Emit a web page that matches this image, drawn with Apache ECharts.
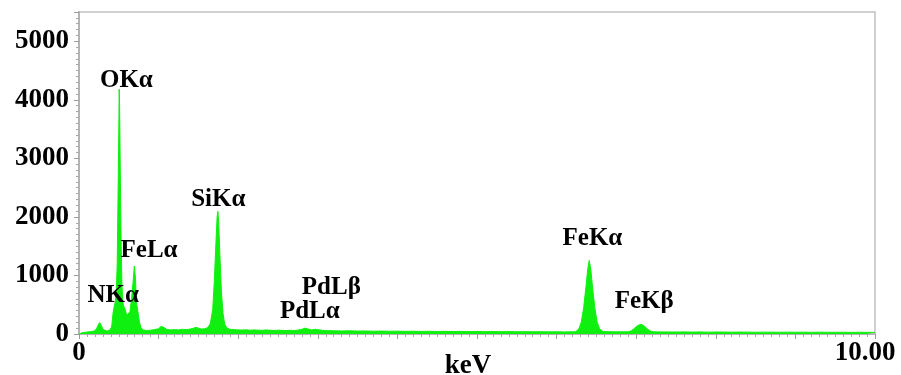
<!DOCTYPE html>
<html>
<head>
<meta charset="utf-8">
<script src="https://cdn.jsdelivr.net/npm/echarts@6/dist/echarts.min.js"></script>
<style>
  html, body { margin: 0; padding: 0; background: #fff; }
  #chart { width: 901px; height: 375px; }
</style>
</head>
<body>
<div id="chart"></div>
<script>
// EDS spectrum: photon energy (keV) and counts
const energyKeV = [
  0.00, 0.02, 0.05, 0.08, 0.11, 0.14, 0.17, 0.20, 0.22, 0.24, 0.26, 0.28, 0.30, 0.32, 0.35, 0.38,
  0.41, 0.43, 0.45, 0.46, 0.47, 0.48, 0.49, 0.50, 0.505, 0.51, 0.52, 0.53, 0.54, 0.55, 0.56, 0.58,
  0.60, 0.61, 0.62, 0.64, 0.66, 0.68, 0.695, 0.71, 0.72, 0.74, 0.76, 0.78, 0.81, 0.85, 0.90, 0.95,
  1.00, 1.03, 1.05, 1.07, 1.10, 1.15, 1.20, 1.25, 1.30, 1.35, 1.40, 1.44, 1.47, 1.50, 1.54, 1.58,
  1.62, 1.65, 1.68, 1.70, 1.72, 1.735, 1.745, 1.755, 1.77, 1.79, 1.81, 1.83, 1.86, 1.90, 1.95, 2.00,
  2.05, 2.10, 2.15, 2.20, 2.25, 2.30, 2.35, 2.40, 2.45, 2.50, 2.55, 2.60, 2.65, 2.70, 2.75, 2.80,
  2.84, 2.88, 2.92, 2.97, 3.01, 3.05, 3.10, 3.20, 3.30, 3.40, 3.50, 3.60, 3.70, 3.80, 3.90, 4.00,
  4.10, 4.20, 4.30, 4.40, 4.50, 4.60, 4.70, 4.80, 4.90, 5.00, 5.10, 5.20, 5.30, 5.40, 5.50, 5.60,
  5.70, 5.80, 5.90, 6.00, 6.10, 6.20, 6.24, 6.28, 6.31, 6.34, 6.37, 6.39, 6.41, 6.43, 6.45, 6.48,
  6.51, 6.54, 6.58, 6.62, 6.70, 6.80, 6.90, 6.94, 6.98, 7.02, 7.06, 7.10, 7.14, 7.18, 7.22, 7.30,
  7.40, 7.50, 7.60, 7.70, 7.80, 7.90, 8.00, 8.10, 8.20, 8.30, 8.40, 8.50, 8.60, 8.70, 8.80, 8.90,
  9.00, 9.10, 9.20, 9.30, 9.40, 9.50, 9.60, 9.70, 9.80, 9.90, 10.00
];
const counts = [
  0, 15, 25, 30, 35, 40, 45, 55, 90, 150, 195, 150, 80, 55, 50, 60,
  120, 380, 520, 600, 780, 1200, 2300, 3500, 4180, 3900, 2600, 1500, 820, 560, 480, 420,
  320, 350, 300, 380, 600, 900, 1160, 950, 560, 380, 200, 100, 70, 60, 65, 75,
  90, 130, 145, 110, 80, 70, 75, 70, 80, 75, 85, 100, 115, 100, 85, 90,
  110, 180, 420, 900, 1550, 2000, 2095, 1900, 1350, 700, 350, 170, 100, 80, 75, 70,
  68, 72, 65, 70, 66, 62, 70, 64, 60, 66, 62, 58, 64, 60, 66, 80,
  100, 85, 70, 80, 72, 65, 58, 55, 52, 55, 50, 52, 48, 50, 47, 49,
  45, 47, 44, 46, 43, 45, 42, 44, 41, 43, 40, 42, 39, 41, 38, 40,
  38, 39, 37, 38, 36, 38, 40, 90, 200, 450, 820, 1100, 1255, 1100, 820, 450,
  200, 90, 45, 40, 38, 37, 38, 55, 100, 145, 165, 140, 85, 50, 38, 36,
  35, 34, 36, 33, 35, 32, 34, 33, 31, 33, 32, 30, 32, 31, 30, 32,
  30, 31, 29, 31, 30, 29, 30, 28, 30, 29, 28
];

// Peak annotations: line name and where its caption sits (keV, counts)
const peakNames = ['OKα', 'FeLα', 'NKα', 'SiKα', 'PdLβ', 'PdLα', 'FeKα', 'FeKβ'];
const peakLabelKeV = [0.595, 0.88, 0.43, 1.75, 3.17, 2.90, 6.45, 7.10];
const peakLabelCounts = [4330, 1430, 660, 2290, 790, 390, 1630, 550];

// Axis settings
const yTickValues = [0, 1000, 2000, 3000, 4000, 5000];
const xAxisMax = 10;

const spectrum = energyKeV.map((e, i) => [e, counts[i]]);
const peakLabels = peakNames.map((n, i) => ({ name: n, coord: [peakLabelKeV[i], peakLabelCounts[i]] }));

const serif = '"Liberation Serif", "Times New Roman", serif';

const chart = echarts.init(document.getElementById('chart'), null, { renderer: 'canvas' });
chart.setOption({
  animation: false,
  backgroundColor: '#ffffff',
  grid: {
    left: 79, right: 26, top: 12, bottom: 41,
    containLabel: false,
    outerBoundsMode: 'none',
    show: true, borderColor: '#d0d0d0', borderWidth: 2, backgroundColor: 'transparent'
  },
  xAxis: {
    type: 'value',
    min: 0, max: xAxisMax, interval: 1,
    name: 'keV',
    nameLocation: 'middle',
    nameGap: 19,
    nameMoveOverlap: false,
    nameTextStyle: { fontFamily: serif, fontWeight: 'bold', fontSize: 27, color: '#000', padding: [0, 18, 0, 0] },
    axisLine: { show: true, lineStyle: { color: '#b4b4b4', width: 2 } },
    axisTick: { show: true, length: 5, lineStyle: { color: '#9a9a9a' } },
    minorTick: { show: true, splitNumber: 10, length: 3, lineStyle: { color: '#a8a8a8' } },
    splitLine: { show: false },
    axisLabel: {
      fontFamily: serif, fontWeight: 'bold', fontSize: 27, color: '#000', margin: 6,
      formatter: v => v === 0 ? '0' : (v === xAxisMax ? '{m|10.00}' : ''),
      rich: { m: { fontFamily: serif, fontWeight: 'bold', fontSize: 27, color: '#000', padding: [0, 20, 0, 0] } }
    }
  },
  yAxis: {
    type: 'value',
    min: 0, max: 5500, interval: 1000,
    axisLine: { show: true, lineStyle: { color: '#b4b4b4', width: 2 } },
    axisTick: { show: true, length: 5, lineStyle: { color: '#9a9a9a' } },
    minorTick: { show: true, splitNumber: 10, length: 3, lineStyle: { color: '#a8a8a8' } },
    splitLine: { show: false },
    axisLabel: {
      fontFamily: serif, fontWeight: 'bold', fontSize: 27, color: '#000', margin: 10,
      formatter: v => yTickValues.includes(v) ? String(v) : ''
    }
  },
  series: [
    {
      type: 'line',
      data: spectrum,
      symbol: 'none',
      smooth: false,
      lineStyle: { color: '#10f010', width: 1 },
      areaStyle: { color: '#10f010', opacity: 1 },
      silent: true,
      markPoint: {
        silent: true,
        symbol: 'circle',
        symbolSize: 0,
        itemStyle: { color: 'transparent' },
        label: {
          show: true,
          position: 'inside',
          formatter: p => p.name,
          fontFamily: serif, fontWeight: 'bold', fontSize: 25,
          color: '#000', opacity: 1, textBorderWidth: 0
        },
        data: peakLabels
      }
    }
  ]
});
</script>
</body>
</html>
